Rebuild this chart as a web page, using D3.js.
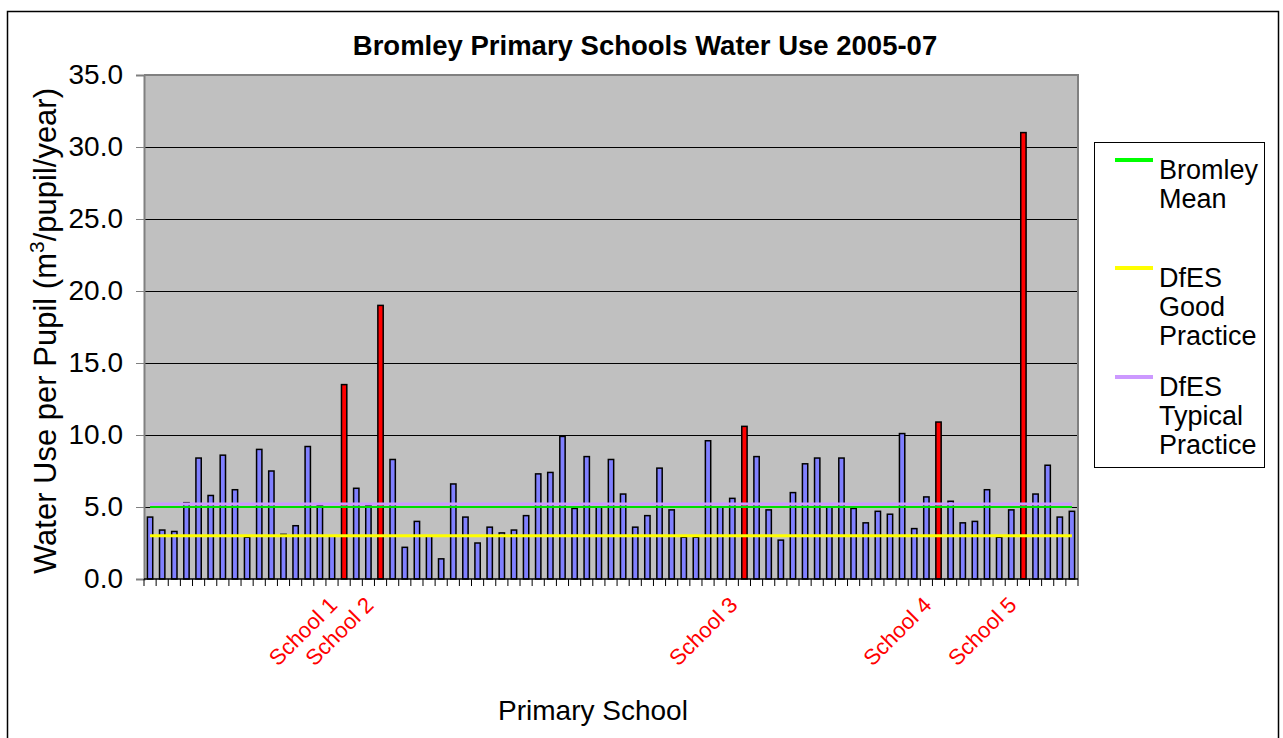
<!DOCTYPE html>
<html>
<head>
<meta charset="utf-8">
<script src="https://cdn.jsdelivr.net/npm/d3@7"></script>
<style>
  body { margin: 0; background: #fff; }
  svg text { font-family: "Liberation Sans", Arial, sans-serif; }
</style>
</head>
<body>
<svg id="chart" width="1283" height="738"></svg>
<script>
// water use per pupil (m3/pupil/year), one value per school, left to right
const waterUse = [
  4.3, 3.4, 3.3, 5.3, 8.4, 5.8, 8.6, 6.2, 2.9, 9.0,
  7.5, 3.1, 3.7, 9.2, 5.1, 3.0, 13.5, 6.3, 5.1, 19.0,
  8.3, 2.2, 4.0, 3.0, 1.4, 6.6, 4.3, 2.5, 3.6, 3.2,
  3.4, 4.4, 7.3, 7.4, 9.9, 4.9, 8.5, 5.0, 8.3, 5.9,
  3.6, 4.4, 7.7, 4.8, 2.9, 2.9, 9.6, 5.0, 5.6, 10.6,
  8.5, 4.8, 2.7, 6.0, 8.0, 8.4, 5.0, 8.4, 4.9, 3.9,
  4.7, 4.5, 10.1, 3.5, 5.7, 10.9, 5.4, 3.9, 4.0, 6.2,
  2.9, 4.8, 31.0, 5.9, 7.9, 4.3, 4.7
];
const schools = waterUse.map((d, i) => i);

// the schools picked out in red, with their axis labels
const namedSchools = [16, 19, 49, 65, 72];
const namedLabels = ['School 1', 'School 2', 'School 3', 'School 4', 'School 5'];

// benchmark lines
const bromleyMean = 5.0;
const dfesGood = 3.0;
const dfesTypical = 5.2;

const yTicks = [0, 5, 10, 15, 20, 25, 30, 35];

const legendItems = [
  { lines: ['Bromley', 'Mean'], color: '#00ff00' },
  { lines: ['DfES', 'Good', 'Practice'], color: '#ffff00' },
  { lines: ['DfES', 'Typical', 'Practice'], color: '#cc99ff' }
];

const svg = d3.select('#chart');

const plot = { left: 144, right: 1078, top: 75, bottom: 579 };

// outer chart frame
svg.append('rect')
  .attr('x', 7.5).attr('y', 11.5)
  .attr('width', 1271).attr('height', 740)
  .attr('fill', '#fff')
  .attr('stroke', '#000')
  .attr('stroke-width', 1.5);

const cat = d3.scaleBand()
  .domain(schools)
  .range([plot.left, plot.right]);

const x = d3.scaleBand()
  .domain(schools)
  .range([plot.left, plot.right])
  .paddingInner(0.56)
  .paddingOuter(0.28);

const y = d3.scaleLinear()
  .domain([0, 35])
  .range([plot.bottom, plot.top]);

// plot area
svg.append('rect')
  .attr('x', plot.left).attr('y', plot.top)
  .attr('width', plot.right - plot.left)
  .attr('height', plot.bottom - plot.top)
  .attr('fill', '#c0c0c0');

// gridlines
svg.append('g')
  .selectAll('line')
  .data(yTicks.filter(d => d > 0 && d < 35))
  .join('line')
  .attr('x1', plot.left).attr('x2', plot.right)
  .attr('y1', d => y(d) + 0.5).attr('y2', d => y(d) + 0.5)
  .attr('stroke', '#000')
  .attr('stroke-width', 1.2);

// plot border (top / right)
svg.append('path')
  .attr('d', `M${plot.left},${plot.top}H${plot.right}V${plot.bottom}`)
  .attr('fill', 'none')
  .attr('stroke', '#808080')
  .attr('stroke-width', 2);

// bars
const named = new Set(namedSchools);
svg.append('g')
  .selectAll('rect')
  .data(waterUse)
  .join('rect')
  .attr('x', (d, i) => x(i))
  .attr('width', x.bandwidth())
  .attr('y', d => y(d))
  .attr('height', d => y(0) - y(d))
  .attr('fill', (d, i) => named.has(i) ? '#ff0000' : '#8080ff')
  .attr('stroke', '#000')
  .attr('stroke-width', 1.5);

// benchmark lines, first to last category centre
const mid = i => cat(i) + cat.bandwidth() / 2;
const first = schools[0], last = schools[schools.length - 1];
[[bromleyMean, '#00dd00', 2], [dfesGood, '#ffff00', 3], [dfesTypical, '#cc99ff', 3]]
  .forEach(([v, c, w]) => {
    svg.append('line')
      .attr('x1', mid(first)).attr('x2', mid(last))
      .attr('y1', y(v)).attr('y2', y(v))
      .attr('stroke', c)
      .attr('stroke-width', w);
  });

// y axis
const yAxis = svg.append('g')
  .attr('transform', `translate(${plot.left},0)`)
  .call(d3.axisLeft(y).tickValues(yTicks).tickFormat(d3.format('.1f')).tickSize(8).tickPadding(13));
yAxis.select('.domain').attr('stroke', '#808080').attr('stroke-width', 2);
yAxis.selectAll('.tick line').attr('stroke', '#808080');
yAxis.selectAll('.tick text')
  .attr('font-size', 28)
  .attr('font-family', '"Liberation Sans", Arial, sans-serif')
  .attr('fill', '#000');

// x axis line and tick marks on category boundaries
svg.append('line')
  .attr('x1', plot.left).attr('x2', plot.right)
  .attr('y1', plot.bottom).attr('y2', plot.bottom)
  .attr('stroke', '#000')
  .attr('stroke-width', 1.5);
svg.append('g')
  .selectAll('line')
  .data(schools.concat([schools.length]))
  .join('line')
  .attr('x1', i => i < schools.length ? cat(i) : plot.right)
  .attr('x2', i => i < schools.length ? cat(i) : plot.right)
  .attr('y1', plot.bottom).attr('y2', plot.bottom + 7)
  .attr('stroke', '#000')
  .attr('stroke-width', 1);

// red school labels
svg.append('g')
  .selectAll('text')
  .data(namedSchools)
  .join('text')
  .attr('transform', i => `translate(${mid(i) - 11},${plot.bottom + 22}) rotate(-45)`)
  .attr('text-anchor', 'end')
  .attr('dy', '0.35em')
  .attr('font-size', 22)
  .attr('fill', '#ff0000')
  .text((i, k) => namedLabels[k]);

// title
svg.append('text')
  .attr('x', 645).attr('y', 55)
  .attr('text-anchor', 'middle')
  .attr('font-size', 27.5)
  .attr('font-weight', 'bold')
  .text('Bromley Primary Schools Water Use 2005-07');

// axis titles
svg.append('text')
  .attr('x', 593).attr('y', 720)
  .attr('text-anchor', 'middle')
  .attr('font-size', 28)
  .text('Primary School');

const yTitle = svg.append('text')
  .attr('transform', `translate(56,331) rotate(-90)`)
  .attr('text-anchor', 'middle')
  .attr('font-size', 31);
yTitle.append('tspan').text('Water Use per Pupil (m');
yTitle.append('tspan').attr('font-size', 21).attr('dy', -12).text('3');
yTitle.append('tspan').attr('dy', 12).text('/pupil/year)');

// legend
const legend = svg.append('g');
legend.append('rect')
  .attr('x', 1094.5).attr('y', 142.5)
  .attr('width', 170).attr('height', 325)
  .attr('fill', '#fff')
  .attr('stroke', '#000')
  .attr('stroke-width', 1);
const itemTop = [160, 268, 377];
legendItems.forEach((item, k) => {
  legend.append('line')
    .attr('x1', 1115).attr('x2', 1153)
    .attr('y1', itemTop[k]).attr('y2', itemTop[k])
    .attr('stroke', item.color)
    .attr('stroke-width', 4);
  item.lines.forEach((t, j) => {
    legend.append('text')
      .attr('x', 1159)
      .attr('y', itemTop[k] + 19 + j * 29)
      .attr('font-size', 27)
      .text(t);
  });
});
</script>
</body>
</html>
